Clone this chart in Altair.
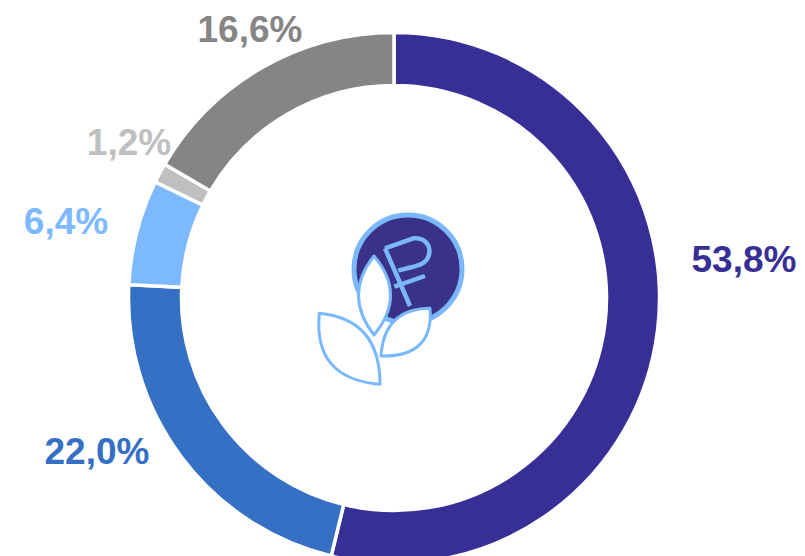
import altair as alt
import pandas as pd

categories = ["A", "B", "C", "D", "E"]
values = [53.8, 22.0, 6.4, 1.2, 16.6]
labels = ["53,8%", "22,0%", "6,4%", "1,2%", "16,6%"]
colors = ["#372f95", "#3570c4", "#7db9ff", "#bfbfbf", "#858585"]

# layout (page px minus 8px margin)
CX, CY = 386, 290
label_pos = [(736, 253), (89, 445), (58, 215), (121, 136), (242, 23)]

df = pd.DataFrame({"cat": categories, "value": values, "order": list(range(5))})

W, H = 789, 548
arc = alt.Chart(df).mark_arc(radius=265.5, radius2=212.5, stroke="white", strokeWidth=3.5).encode(
    theta=alt.Theta("value:Q", stack=True, scale=alt.Scale(domain=[0, 100], range=[0, 6.28318530718])),
    order=alt.Order("order:Q"),
    color=alt.Color("cat:N", scale=alt.Scale(domain=categories, range=colors), legend=None),
    x=alt.value(CX), y=alt.value(CY),
)

layers = [arc]
for lab, col, (lx, ly) in zip(labels, colors, label_pos):
    layers.append(
        alt.Chart(pd.DataFrame({"t": [lab]})).mark_text(
            font="Liberation Sans", fontSize=37, fontWeight="bold", color=col,
            align="center", baseline="middle",
        ).encode(text="t:N", x=alt.value(lx), y=alt.value(ly))
    )

# logo
LX, LY = CX + 14, CY - 29
LIGHT = "#7ab8fb"
logo_df = pd.DataFrame({"a": [1]})

def glyph(path, fill=None, stroke=LIGHT, sw=3.0):
    kw = dict(shape=path, size=4, stroke=stroke, strokeWidth=sw, opacity=1, strokeJoin="round", strokeCap="butt")
    kw["filled"] = fill is not None
    if fill is not None:
        kw["fill"] = fill
    return alt.Chart(logo_df).mark_point(**kw).encode(x=alt.value(LX), y=alt.value(LY))

layers.append(alt.Chart(logo_df).mark_circle(size=4 * 54 * 54, fill="#3a3189", stroke=LIGHT, strokeWidth=5, opacity=1).encode(x=alt.value(LX), y=alt.value(LY)))
layers.append(glyph("M-23,-20.7 L5.3,-30.7 C18,-32 24,-22 20.3,-12.3 C17,-3 5,-3 -9.7,1.7 M-13.7,17.7 L17,7 M-23,-20.7 L2,37", sw=4.5))
layers.append(glyph("M-34,-13 Q-65,26 -34,66 Q-1,26 -34,-13Z", fill="white"))
layers.append(glyph("M-88.7,44.3 Q-28,50 -28,115.3 Q-95,110 -88.7,44.3Z", fill="white"))
layers.append(glyph("M22,39.3 Q-24,40 -27,87 Q26,88 22,39.3Z", fill="white"))

chart = alt.layer(*layers).properties(
    width=W, height=H, padding=0, autosize=alt.AutoSizeParams(type="none"),
).configure_view(stroke=None)

chart.save("out.html", embed_options={"renderer": "svg", "actions": False})
